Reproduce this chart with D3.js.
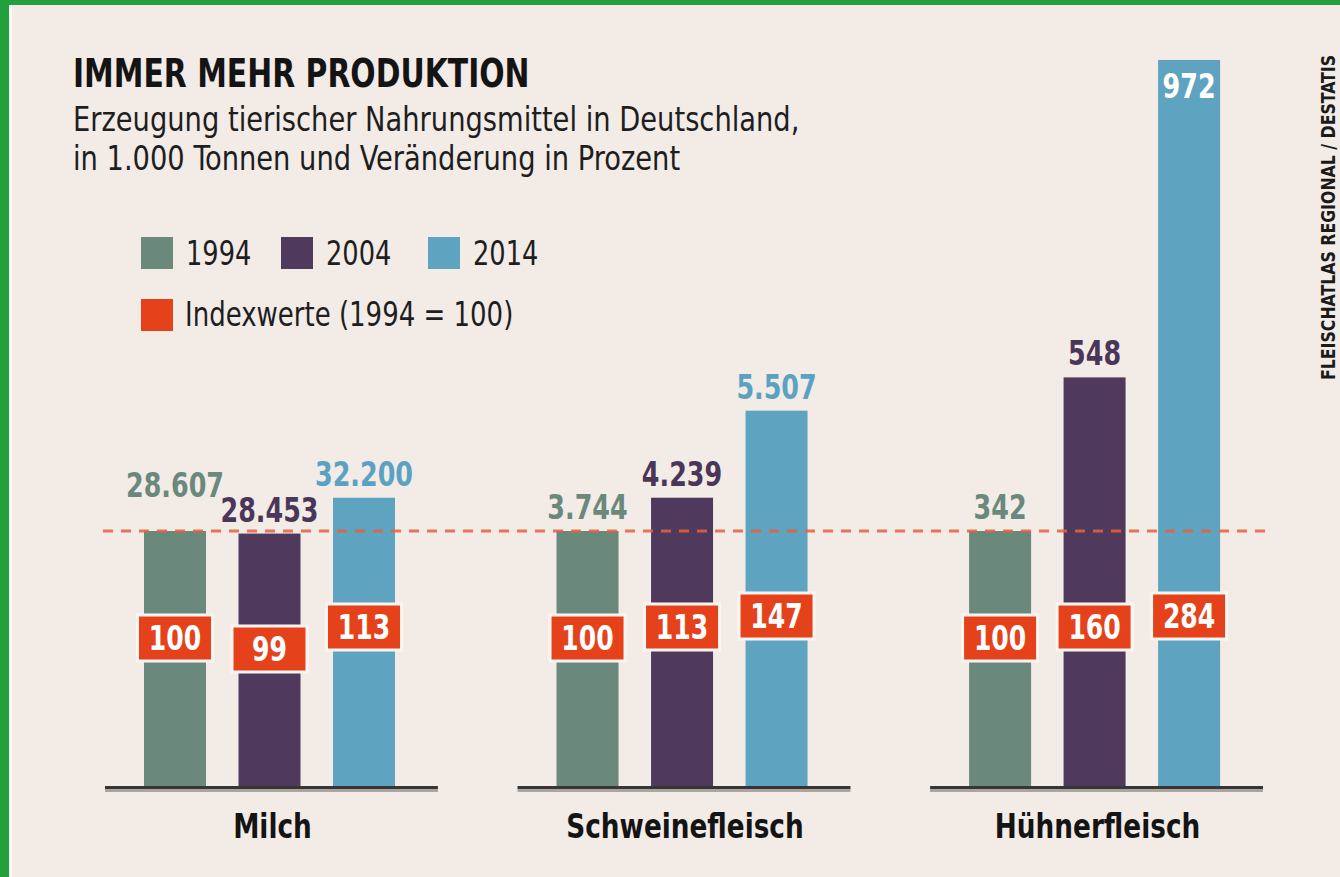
<!DOCTYPE html>
<html>
<head>
<meta charset="utf-8">
<script src="https://cdn.jsdelivr.net/npm/d3@7"></script>
<style>
  body { margin: 0; background: #f2ebe6; }
  svg { display: block; }
  text { font-family: "Liberation Sans Narrow", "DejaVu Sans Condensed", "Roboto", sans-serif; }
</style>
</head>
<body>
<div id="chart"></div>
<script>
// data
var categories = ["Milch", "Schweinefleisch", "Hühnerfleisch"];
var years = ["1994", "2004", "2014"];
var values1994 = [28607, 3744, 342];
var values2004 = [28453, 4239, 548];
var values2014 = [32200, 5507, 972];
var index1994 = [100, 100, 100];
var index2004 = [99, 113, 160];
var index2014 = [113, 147, 284];

var width = 1340,
height = 877,
baseY = 787,
refY = 531;

var colors = { "1994": "#6a897c", "2004": "#4f3a5e", "2014": "#5ea4c1" };
var labelColors = { "1994": "#6a897c", "2004": "#4a3658", "2014": "#5ba2c2" };
var red = "#e5421c";

// squeeze text to look like the narrow font of the original
function condense(sel, k) {
	sel.each(function() {
		var w = this.getComputedTextLength();
		d3.select(this)
		.attr("textLength", w * k)
		.attr("lengthAdjust", "spacingAndGlyphs");
	});
	return sel;
}

var svg = d3.select("#chart")
.append("svg")
.attr("width", width)
.attr("height", height);

// background + green frame
svg.append("rect").attr("width", width).attr("height", height).attr("fill", "#f2ebe6");
svg.append("rect").attr("x", 0).attr("y", 0).attr("width", width).attr("height", 5).attr("fill", "#21a03b");
svg.append("rect").attr("x", 0).attr("y", 0).attr("width", 9).attr("height", height).attr("fill", "#21a03b");
svg.append("rect").attr("x", 9).attr("y", 5).attr("width", 3).attr("height", height).attr("fill", "#fbf8f5");

// title
svg.append("text")
.attr("x", 73).attr("y", 87)
.style("font-weight", "bold").style("font-size", "39px")
.attr("fill", "#141414")
.text("IMMER MEHR PRODUKTION")
.call(condense, 0.85);

svg.append("text")
.attr("x", 73).attr("y", 131)
.style("font-size", "33px").attr("fill", "#1e1e1e")
.text("Erzeugung tierischer Nahrungsmittel in Deutschland,")
.call(condense, 0.92);

svg.append("text")
.attr("x", 73).attr("y", 170)
.style("font-size", "33px").attr("fill", "#1e1e1e")
.text("in 1.000 Tonnen und Veränderung in Prozent")
.call(condense, 0.92);

// source, vertical
svg.append("text")
.attr("transform", "translate(1335,380) rotate(-90)")
.style("font-weight", "bold").style("font-size", "19px")
.attr("fill", "#1a1a1a")
.attr("textLength", 325).attr("lengthAdjust", "spacingAndGlyphs")
.text("FLEISCHATLAS REGIONAL / DESTATIS");

// legend
var legendX = [141, 281, 428];
years.forEach(function(y, i) {
	svg.append("rect")
	.attr("x", legendX[i]).attr("y", 237)
	.attr("width", 32).attr("height", 32)
	.attr("fill", colors[y]);
	svg.append("text")
	.attr("x", legendX[i] + 45).attr("y", 265)
	.style("font-size", "34px").attr("fill", "#1e1e1e")
	.text(y)
	.call(condense, 0.84);
});
svg.append("rect")
.attr("x", 141).attr("y", 299).attr("width", 32).attr("height", 32)
.attr("fill", red);
svg.append("text")
.attr("x", 185).attr("y", 326)
.style("font-size", "34px").attr("fill", "#1e1e1e")
.text("Indexwerte (1994 = 100)")
.call(condense, 0.85);

// scales
var x0 = d3.scaleBand()
.domain(categories)
.range([105, 1263])
.paddingInner(0.193)
.paddingOuter(0);

var x1 = d3.scaleBand()
.domain(years)
.range([39, 290])
.paddingInner(0.344)
.paddingOuter(0);

var yScale = d3.scaleLinear()
.domain([0, 100])
.range([baseY, refY]);

var seriesValues = { "1994": values1994, "2004": values2004, "2014": values2014 };
var seriesIndex = { "1994": index1994, "2004": index2004, "2014": index2014 };

var fmt = d3.formatLocale({ decimal: ",", thousands: ".", grouping: [3], currency: ["", "€"] }).format(",d");

var groups = svg.selectAll(".group")
.data(categories)
.enter()
.append("g")
.attr("class", "group")
.attr("transform", function(d) { return "translate(" + x0(d) + ",0)"; });

groups.each(function(cat, ci) {
	var g = d3.select(this);
	var rows = years.map(function(y) {
		return { year: y, value: seriesValues[y][ci], idx: seriesIndex[y][ci] };
	});

	// bars
	g.selectAll("rect.bar")
	.data(rows)
	.enter()
	.append("rect")
	.attr("class", "bar")
	.attr("x", function(d) { return x1(d.year); })
	.attr("width", x1.bandwidth())
	.attr("y", function(d) { return yScale(d.idx); })
	.attr("height", function(d) { return baseY - yScale(d.idx); })
	.attr("fill", function(d) { return colors[d.year]; });

	// baseline with shadow
	g.append("rect")
	.attr("x", 0).attr("y", baseY + 2)
	.attr("width", x0.bandwidth()).attr("height", 3)
	.attr("fill", "#aaa5a1");
	g.append("rect")
	.attr("x", 0).attr("y", baseY - 1)
	.attr("width", x0.bandwidth()).attr("height", 3)
	.attr("fill", "#363636");

	// value labels
	rows.forEach(function(d, i) {
		var top = yScale(d.idx);
		var cx = x1(d.year) + x1.bandwidth() / 2;
		var ly = top - 12;
		var fill = labelColors[d.year];
		if (ly - 26 < 60) {
			// no room above: put it inside the bar
			ly = top + 38;
			fill = "#ffffff";
		}
		// lift a label if its right neighbour sits lower and would collide
		if (i < rows.length - 1) {
			var nextTop = yScale(rows[i + 1].idx);
			if (nextTop - 12 > ly - 4 && Math.abs(nextTop - top) < 20) ly -= 22;
		}
		g.append("text")
		.attr("x", cx).attr("y", ly)
		.attr("text-anchor", "middle")
		.style("font-weight", "bold").style("font-size", "34px")
		.attr("fill", fill)
		.text(fmt(d.value))
		.call(condense, 0.83);
	});

	// index boxes, staggered by rank within the group
	var sorted = rows.map(function(d) { return d.idx; }).sort(d3.ascending);
	var baseRank = sorted.indexOf(rows[0].idx);
	rows.forEach(function(d) {
		var cx = x1(d.year) + x1.bandwidth() / 2;
		var cy = 638 - 11 * (sorted.indexOf(d.idx) - baseRank);
		g.append("rect")
		.attr("x", cx - 37.5).attr("y", cy - 23)
		.attr("width", 75).attr("height", 46)
		.attr("fill", red)
		.attr("stroke", "#fbf5f1").attr("stroke-width", 3);
		g.append("text")
		.attr("x", cx).attr("y", cy + 12)
		.attr("text-anchor", "middle")
		.style("font-weight", "bold").style("font-size", "34px")
		.attr("fill", "#ffffff")
		.text(d.idx)
		.call(condense, 0.82);
	});

	// category label
	g.append("text")
	.attr("x", x0.bandwidth() / 2 + 1).attr("y", 838)
	.attr("text-anchor", "middle")
	.style("font-weight", "bold").style("font-size", "34px")
	.attr("fill", "#141414")
	.text(cat)
	.call(condense, 0.86);
});

// reference line for 1994 = 100
svg.append("line")
.attr("x1", 103).attr("x2", 1266)
.attr("y1", yScale(100)).attr("y2", yScale(100))
.attr("stroke", "#e8603c")
.attr("stroke-opacity", 0.85)
.attr("stroke-width", 3)
.attr("stroke-dasharray", "10,8");
</script>
</body>
</html>
